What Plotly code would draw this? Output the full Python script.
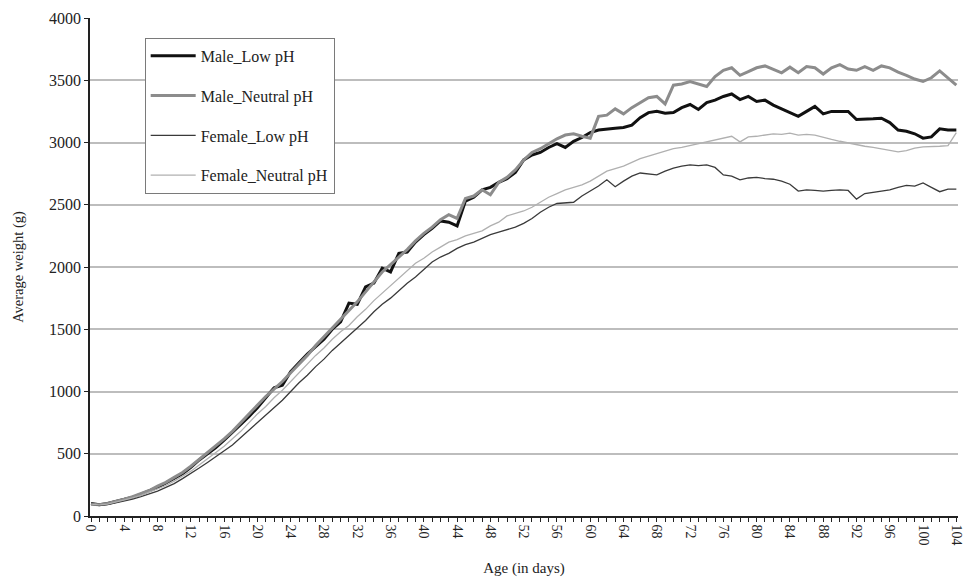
import plotly.graph_objects as go

days = list(range(0, 105))

male_low = [100, 90, 100, 115, 130, 150, 175, 200, 230, 265, 300, 340, 390, 450, 500, 550, 610, 670, 735, 800,
            870, 950, 1030, 1050, 1160, 1230, 1300, 1360, 1420, 1500, 1560, 1710, 1700, 1840, 1870, 1990, 1960, 2110, 2120, 2200,
            2260, 2310, 2370, 2360, 2330, 2530, 2560, 2620, 2640, 2680, 2710, 2760, 2860, 2900, 2920, 2960, 2990, 2960, 3010, 3040,
            3080, 3100, 3110, 3115, 3120, 3140, 3200, 3240, 3250, 3235, 3240, 3280, 3305, 3265, 3320, 3340, 3370, 3390, 3345, 3370,
            3330, 3340, 3300, 3270, 3240, 3210, 3250, 3290, 3230, 3250, 3250, 3250, 3185, 3185, 3190, 3195, 3160, 3100, 3090, 3070,
            3035, 3045, 3110, 3100, 3100]

male_neutral = [95, 90, 100, 115, 135, 155, 180, 205, 240, 270, 310, 350, 400, 455, 510, 560, 620, 680, 750, 820,
                890, 960, 1020, 1080, 1150, 1220, 1290, 1370, 1440, 1510, 1580, 1650, 1720, 1800, 1880, 1960, 2020, 2080, 2140, 2210,
                2270, 2320, 2380, 2420, 2390, 2550, 2570, 2620, 2580, 2680, 2720, 2780, 2860, 2920, 2950, 2990, 3030, 3060, 3070, 3050,
                3035, 3210, 3220, 3270, 3230, 3280, 3320, 3360, 3370, 3310, 3460, 3470, 3490, 3470, 3450, 3530, 3580, 3600, 3540, 3570,
                3600, 3615, 3590, 3560, 3605, 3560, 3610, 3600, 3550, 3600, 3625, 3590, 3580, 3610, 3580, 3615, 3600, 3565, 3540, 3510,
                3490, 3520, 3575, 3520, 3460]

female_low = [95, 88, 92, 105, 118, 135, 155, 175, 200, 230, 260, 300, 340, 385, 430, 475, 520, 570, 630, 690,
              750, 810, 870, 930, 1000, 1070, 1130, 1200, 1260, 1330, 1390, 1450, 1510, 1570, 1640, 1700, 1750, 1810, 1870, 1920,
              1980, 2040, 2080, 2110, 2150, 2180, 2200, 2230, 2260, 2280, 2300, 2320, 2350, 2390, 2440, 2480, 2510, 2515, 2520, 2570,
              2610, 2650, 2700, 2645, 2690, 2730, 2755, 2745, 2740, 2770, 2795, 2810, 2820, 2815, 2820, 2800, 2740, 2730, 2700, 2715,
              2720, 2710, 2705, 2690, 2665, 2610, 2620, 2615, 2610, 2615, 2620, 2615, 2545, 2590, 2600, 2610, 2620, 2640, 2655, 2650,
              2675, 2640, 2605, 2625, 2625]

female_neutral = [95, 90, 95, 110, 125, 145, 165, 190, 215, 245, 280, 320, 360, 410, 460, 510, 560, 620, 680, 750,
                  820, 880, 950, 1010, 1080, 1150, 1220, 1290, 1350, 1420, 1480, 1530, 1600, 1660, 1730, 1790, 1850, 1910, 1970, 2030,
                  2070, 2120, 2160, 2200, 2220, 2250, 2270, 2290, 2330, 2360, 2410, 2430, 2450, 2480, 2520, 2560, 2590, 2620, 2640, 2660,
                  2690, 2730, 2770, 2790, 2810, 2840, 2870, 2890, 2910, 2930, 2950, 2960, 2975, 2990, 3005, 3020, 3040, 3050, 3005, 3045,
                  3050, 3060, 3070, 3065, 3075, 3060, 3065, 3060, 3040, 3025, 3010, 2995, 2980, 2970, 2960, 2950, 2940, 2925, 2935, 2955,
                  2965, 2965, 2970, 2975, 3080]

series_names = ["Male_Low pH", "Male_Neutral pH", "Female_Low pH", "Female_Neutral pH"]
y_ticks = [0, 500, 1000, 1500, 2000, 2500, 3000, 3500, 4000]
x_tick_labels = [str(d) if d % 4 == 0 else "" for d in days]

styles = [
    dict(color="#111111", width=3),
    dict(color="#8c8c8c", width=3),
    dict(color="#3a3a3a", width=1.3),
    dict(color="#b0b0b0", width=1.3),
]

fig = go.Figure()
for i, (name, vals) in enumerate(zip(series_names, [male_low, male_neutral, female_low, female_neutral])):
    fig.add_trace(go.Scatter(x=days, y=vals, mode="lines", name=name, line=styles[i],
                             legendgroup=f"g{i}"))

serif = "Liberation Serif, Times New Roman, serif"
fig.update_layout(
    width=967, height=582,
    margin=dict(l=90, r=3, t=18, b=66),
    paper_bgcolor="white", plot_bgcolor="white",
    font=dict(family=serif, size=13, color="#222222"),
    showlegend=True,
    legend=dict(x=0.063, y=0.96, xanchor="left", yanchor="top",
                bordercolor="#7a7a7a", borderwidth=1, bgcolor="white",
                font=dict(family=serif, size=16, color="#222222"),
                tracegroupgap=16, itemwidth=45),
    xaxis=dict(range=[-0.12, 104.2], tickmode="array", tickvals=days, ticktext=x_tick_labels,
               tickangle=90, ticks="outside", ticklen=4, tickcolor="#222222",
               showline=True, linecolor="#222222", linewidth=1.5, showgrid=False, zeroline=False,
               ticklabeloverflow="allow",
               title=dict(text="Age (in days)", font=dict(family=serif, size=15), standoff=18),
               tickfont=dict(family=serif, size=14)),
    yaxis=dict(range=[0, 4000], tickvals=y_ticks, ticks="outside", ticklen=4, tickcolor="#222222",
               showline=True, linecolor="#222222", linewidth=1.5,
               showgrid=True, gridcolor="#bdbdbd", gridwidth=1.5, zeroline=False,
               title=dict(text="Average weight (g)", font=dict(family=serif, size=14.5), standoff=22),
               tickfont=dict(family=serif, size=16)),
)

fig.write_html("out.html")
